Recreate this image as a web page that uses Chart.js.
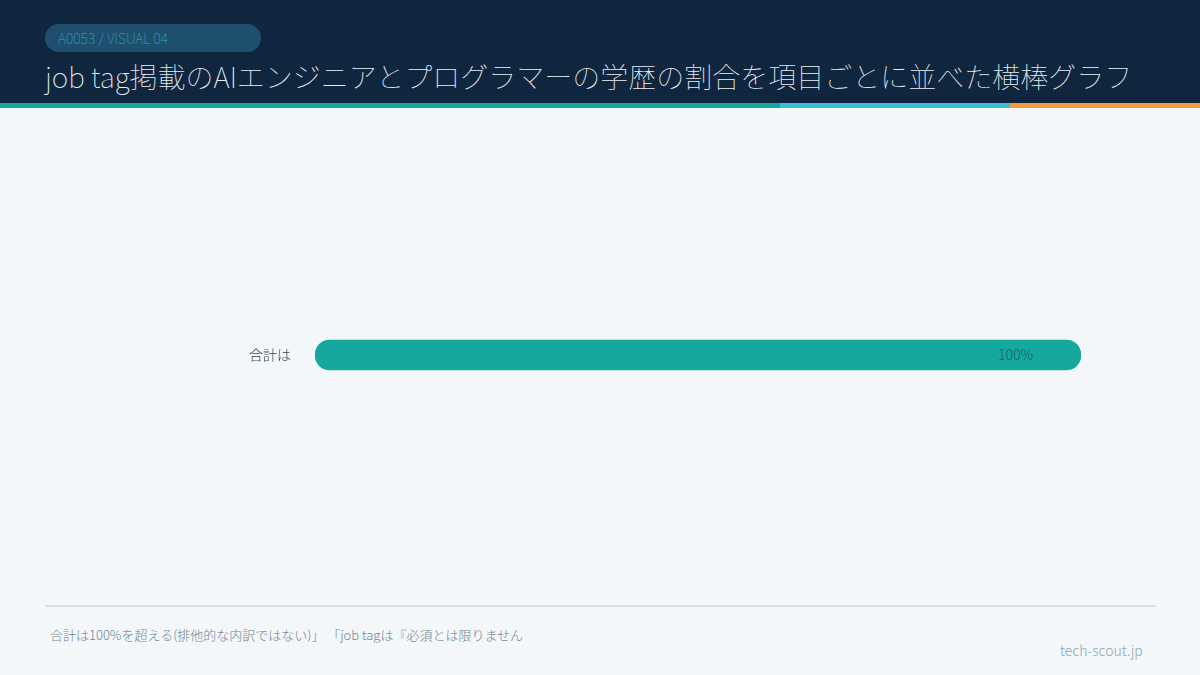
<!DOCTYPE html>
<html lang="ja">
<head>
<meta charset="utf-8">
<script src="https://cdn.jsdelivr.net/npm/chart.js@4.4.0/dist/chart.umd.min.js"></script>
<style>
  html, body { margin: 0; padding: 0; }
  body {
    width: 1200px; height: 675px; overflow: hidden; position: relative;
    background: #f3f7fa;
    font-family: "Noto Sans CJK JP", "Noto Sans", sans-serif; font-weight: 100;
  }
  .header { position: absolute; left: 0; top: 0; width: 1200px; height: 103px; background: #10253e; }
  .badge {
    position: absolute; left: 45px; top: 24px; width: 216px; height: 28px; border-radius: 14px;
    background: #1f4f6f; color: #2fa9c4; font-size: 14px; line-height: 28px; padding-left: 13px;
    box-sizing: border-box;
  }
  .title { position: absolute; left: 45px; top: 56px; color: #e9eff4; font-size: 28px; line-height: 40px; white-space: nowrap; }
  .stripe { position: absolute; top: 103px; height: 5px; }
  .chart-box { position: absolute; left: 0; top: 110px; width: 1200px; height: 490px; }
  .rule { position: absolute; left: 45px; top: 605px; width: 1111px; height: 2px; background: #d6e1e9; }
  .light { font-family: "Noto Sans CJK JP Light", "Noto Sans CJK JP", sans-serif; font-weight: 400; }
  .note { position: absolute; left: 50px; top: 625px; font-size: 13px; color: #6f8597; white-space: nowrap; }
  .site { position: absolute; left: 1060px; top: 640px; font-size: 14px; color: #8aa5b8; }
</style>
</head>
<body>
<div class="header">
  <div class="badge">A0053 / VISUAL 04</div>
  <div class="title">job tag掲載のAIエンジニアとプログラマーの学歴の割合を項目ごとに並べた横棒グラフ</div>
</div>
<div class="stripe" style="left:0;width:780px;background:#15a89f"></div>
<div class="stripe" style="left:780px;width:230px;background:#37bddb"></div>
<div class="stripe" style="left:1010px;width:190px;background:#f39a3b"></div>

<div class="chart-box"><canvas id="myChart"></canvas></div>

<div class="rule"></div>
<div class="note light">合計は100%を超える(排他的な内訳ではない)」 「job tagは『必須とは限りません</div>
<div class="site light">tech-scout.jp</div>

<script>
const categories = ["合計は"];
const shares = [100];
const axisMax = 100;

let chartElementContext = document.getElementById("myChart").getContext("2d");

// value label inside the bar, near its end
const valueLabels = {
  id: "valueLabels",
  afterDatasetsDraw(chart) {
    const ctx = chart.ctx;
    const meta = chart.getDatasetMeta(0);
    ctx.save();
    ctx.font = "14px 'Noto Sans CJK JP Light', 'Noto Sans CJK JP', sans-serif";
    ctx.fillStyle = "#1c5862";
    ctx.textAlign = "right";
    ctx.textBaseline = "middle";
    meta.data.forEach((bar, i) => {
      ctx.fillText(`${shares[i]}%`, bar.x - 48, bar.y);
    });
    ctx.restore();
  },
};

var myChart = new Chart(chartElementContext, {
  type: "bar",
  data: {
    labels: categories,
    datasets: [
      {
        data: shares,
        backgroundColor: "#15a89f",
        borderRadius: 15,
        borderSkipped: false,
        barThickness: 30,
      },
    ],
  },
  options: {
    indexAxis: "y",
    responsive: true,
    maintainAspectRatio: false,
    animation: false,
    layout: { padding: { left: 0, right: 119, top: 0, bottom: 0 } },
    plugins: {
      legend: { display: false },
      tooltip: { enabled: false },
    },
    scales: {
      x: {
        display: false,
        min: 0,
        max: axisMax,
      },
      y: {
        grid: { display: false },
        border: { display: false },
        afterFit(scale) { scale.width = 315; },
        ticks: {
          padding: 16,
          color: "#33424f",
          font: { family: "'Noto Sans CJK JP Light', 'Noto Sans CJK JP', sans-serif", size: 14 },
        },
      },
    },
  },
  plugins: [valueLabels],
});
</script>
</body>
</html>
